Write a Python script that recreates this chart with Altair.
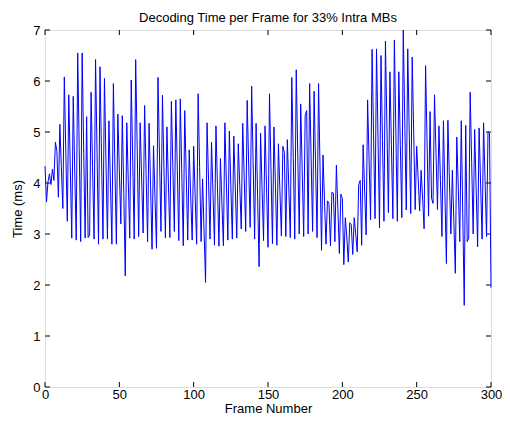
import altair as alt
import pandas as pd

FONT = "Liberation Sans, Arial, Helvetica, sans-serif"

# Decoding time (ms)
HEAD = [4.33, 3.63, 4.02, 4.18, 3.97, 4.27, 4.05, 4.80, 4.62, 3.72]

PEAKS = [5.15, 6.08, 5.73, 5.70, 6.55, 6.55, 5.30, 5.78, 6.42, 6.28,
         6.05, 5.22, 5.95, 5.35, 5.32, 5.18, 6.02, 6.42, 5.18, 5.52,
         5.17, 4.73, 6.07, 5.72, 5.10, 5.60, 5.63, 5.65, 5.42, 4.65,
         4.72, 5.75, 4.08, 5.18, 4.80, 5.12, 4.48, 5.18, 5.02, 4.92,
         4.77, 5.17, 5.62, 5.90, 5.17, 4.98, 5.12, 5.75, 5.10, 4.77,
         4.72, 4.85, 6.07, 6.22, 5.55, 5.32, 5.95, 5.80, 5.95, 4.55,
         3.65, 3.82, 4.35, 3.78, 3.32, 3.22, 3.32, 3.97, 4.75, 5.63,
         6.62, 6.63, 6.50, 6.78, 6.18, 6.80, 6.18, 7.00, 6.63, 6.47,
         4.72, 4.25, 6.30, 5.40, 5.73, 5.12, 5.22, 5.23, 4.25, 4.90,
         5.22, 5.13, 5.78, 5.05, 5.08, 5.18, 5.00]

MIDS = [4.30, 4.60, 4.30, 4.25, 4.70, 4.70, 2.93, 4.30, 4.60, 4.55,
        4.45, 4.00, 4.35, 4.25, 3.80, 4.05, 4.45, 4.70, 4.10, 4.20,
        3.95, 3.70, 4.55, 4.30, 4.00, 4.30, 4.25, 4.20, 4.15, 3.75,
        3.75, 4.30, 3.05, 4.05, 3.80, 3.95, 3.60, 4.00, 3.95, 3.90,
        3.95, 4.10, 4.35, 4.40, 3.75, 3.90, 3.95, 4.30, 3.95, 3.85,
        4.60, 3.90, 4.50, 4.60, 4.25, 5.42, 4.50, 4.35, 4.30, 3.65,
        3.60, 3.80, 3.50, 3.70, 2.95, 3.18, 3.00, 4.05, 3.85, 4.45,
        4.95, 4.90, 4.85, 5.10, 4.75, 5.00, 4.75, 5.20, 5.00, 5.00,
        4.10, 3.70, 4.80, 3.70, 4.60, 4.05, 3.80, 4.10, 3.25, 3.90,
        3.40, 2.85, 4.40, 3.90, 4.00, 4.05, 4.98]

VALLEYS = [3.50, 3.25, 2.92, 2.88, 2.85, 2.92, 2.98, 2.90, 2.80, 2.90,
           2.90, 2.80, 2.80, 3.20, 2.18, 2.92, 2.90, 2.95, 3.02, 2.85,
           2.70, 2.72, 3.05, 2.92, 2.93, 3.05, 2.87, 2.77, 2.88, 2.88,
           2.80, 2.85, 2.05, 2.90, 2.78, 2.76, 2.77, 2.88, 2.90, 2.92,
           3.10, 3.05, 3.13, 2.90, 2.36, 2.87, 2.74, 2.81, 2.78, 2.96,
           2.95, 2.93, 2.90, 3.00, 2.95, 3.00, 3.05, 2.93, 2.68, 2.80,
           2.77, 2.85, 2.62, 2.40, 2.45, 2.60, 2.65, 2.78, 2.98, 3.28,
           3.30, 3.12, 3.25, 3.42, 3.30, 3.25, 3.32, 3.47, 3.40, 3.48,
           3.45, 3.10, 3.35, 3.60, 3.48, 2.95, 2.42, 3.00, 2.23, 2.85,
           1.60, 2.92, 3.00, 2.75, 2.90, 2.95, 1.95]

X_TICKS = [0, 50, 100, 150, 200, 250, 300]
Y_TICKS = [0, 1, 2, 3, 4, 5, 6, 7]

values = list(HEAD)
for p, m, v in zip(PEAKS, MIDS, VALLEYS):
    values += [p, m, v]

df = pd.DataFrame({"frame": list(range(len(values))), "time": values})
xt = pd.DataFrame({"t": X_TICKS})
yt = pd.DataFrame({"t": Y_TICKS})

W, H = 446, 357
TL = 5

xs = alt.Scale(domain=[0, 300], nice=False, zero=False)
ys = alt.Scale(domain=[0, 7], nice=False, zero=False)

common_axis = dict(ticks=False, domain=False, grid=False, labelFontSize=13,
                   titleFontSize=13, labelFont=FONT, titleFont=FONT,
                   labelColor="black", titleColor="black", titleFontWeight="normal",
                   labelOverlap=False, labelFlush=False)

line = alt.Chart(df).mark_line(color="#0000ff", strokeWidth=1).encode(
    x=alt.X("frame:Q", scale=xs,
            axis=alt.Axis(values=X_TICKS, title="Frame Number", format="d",
                          labelPadding=1, titleY=25, titleBaseline="alphabetic",
                          **common_axis)),
    y=alt.Y("time:Q", scale=ys,
            axis=alt.Axis(values=Y_TICKS, title="Time (ms)", format="d",
                          labelPadding=5, titlePadding=8, **common_axis)),
)

xb = alt.Chart(xt).mark_rule(color="black", strokeWidth=1).encode(
    x=alt.X("t:Q", scale=xs), y=alt.value(H), y2=alt.value(H - TL))
xtop = alt.Chart(xt).mark_rule(color="black", strokeWidth=1).encode(
    x=alt.X("t:Q", scale=xs), y=alt.value(0), y2=alt.value(TL))
yl = alt.Chart(yt).mark_rule(color="black", strokeWidth=1).encode(
    y=alt.Y("t:Q", scale=ys), x=alt.value(0), x2=alt.value(TL))
yr = alt.Chart(yt).mark_rule(color="black", strokeWidth=1).encode(
    y=alt.Y("t:Q", scale=ys), x=alt.value(W), x2=alt.value(W - TL))

chart = alt.layer(xb, xtop, yl, yr, line).properties(
    width=W, height=H,
    title=alt.TitleParams("Decoding Time per Frame for 33% Intra MBs",
                          fontSize=13, fontWeight="normal", font=FONT,
                          color="black", anchor="middle", baseline="bottom",
                          offset=0, dy=14),
    autosize=alt.AutoSizeParams(type="none"),
    padding={"left": 37, "top": 22, "right": 11, "bottom": 28},
).configure_view(stroke="black", strokeWidth=1).configure(background="white")

chart.save("out.html", embed_options={"renderer": "svg", "actions": False})
